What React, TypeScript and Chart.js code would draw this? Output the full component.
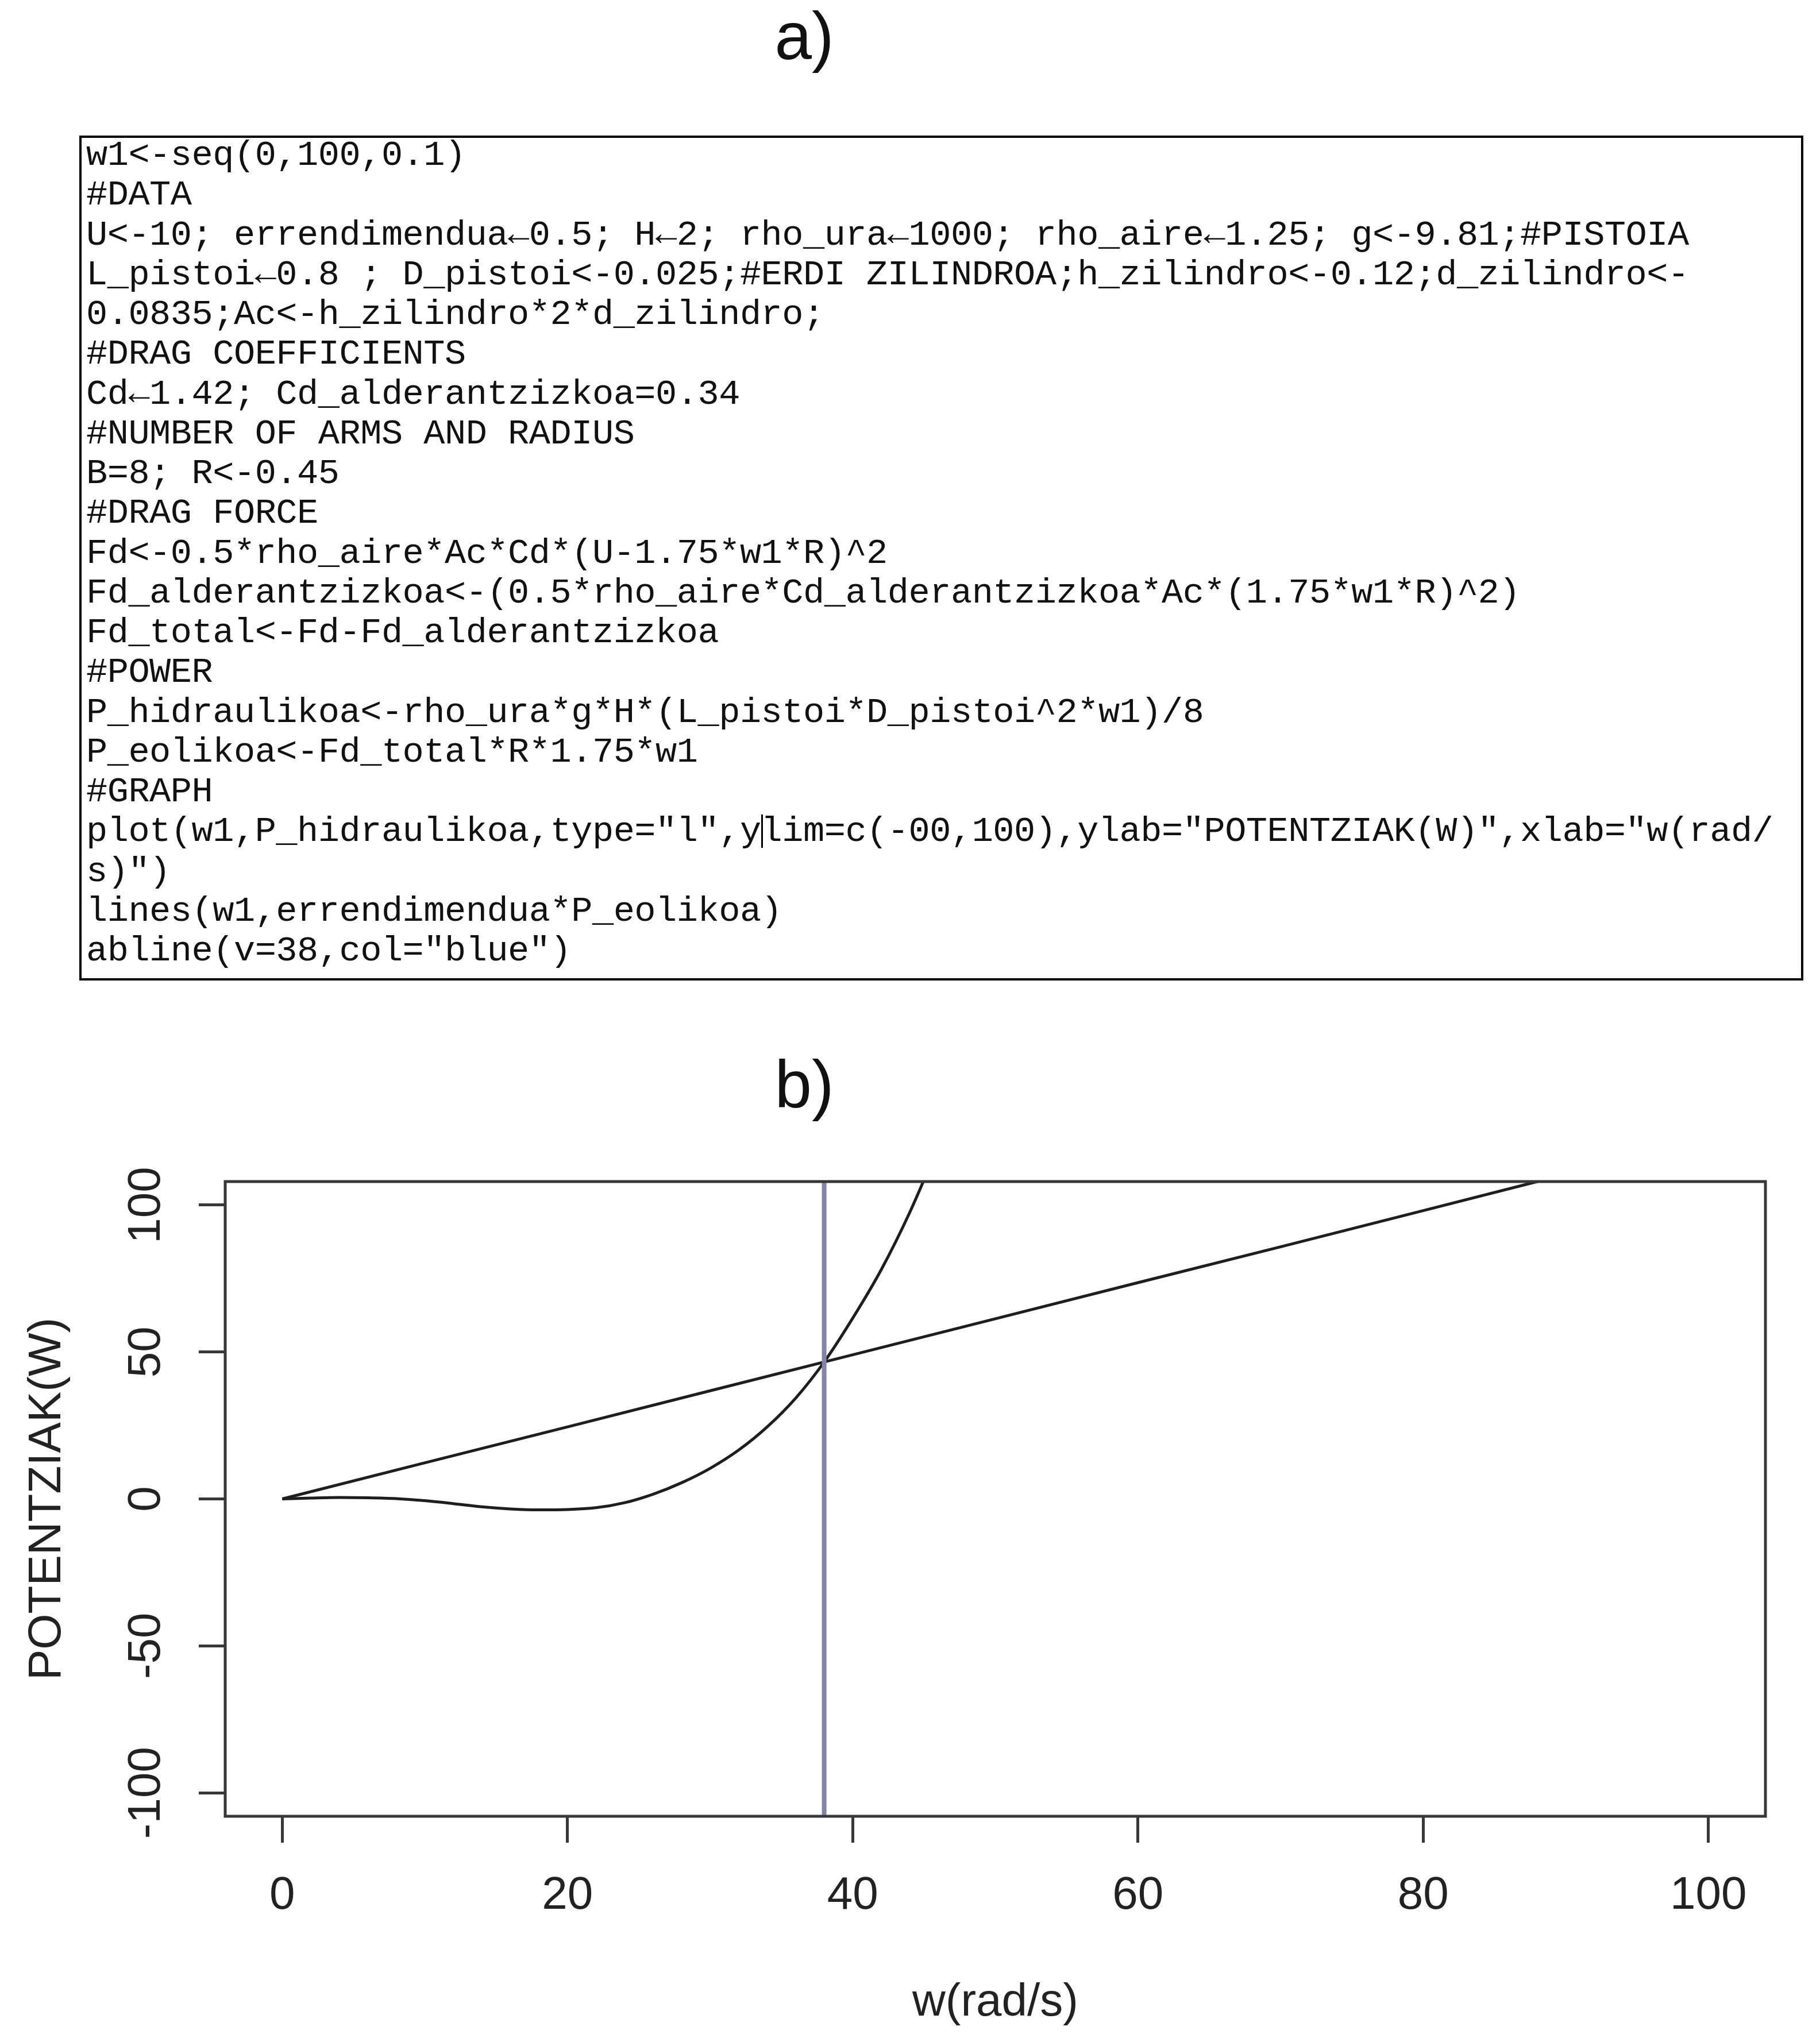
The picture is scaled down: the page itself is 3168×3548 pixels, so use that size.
import React, { useEffect, useRef } from "react";
import { Chart, registerables } from "chart.js";

Chart.register(...registerables);

// ---------- chart data (panel b) ----------
const xTicks = [0, 20, 40, 60, 80, 100];
const yTicks = [-100, -50, 0, 50, 100];
const xMin = -4;
const xMax = 104;
const yMin = -108;
const yMax = 108;

// P_hidraulikoa (straight line)
const hidroW = [0, 10, 20, 30, 38, 50, 60, 70, 80, 88, 100];
const hidroP = [0, 12.3, 24.5, 36.8, 46.6, 61.3, 73.6, 85.8, 98.1, 108, 122.6];

// errendimendua * P_eolikoa (curve)
const eolikoW = [0, 2, 4, 6, 8, 10, 12, 14, 16, 18, 20, 22, 24, 26, 28, 30, 32, 34, 36, 38, 40, 42, 44, 46];
const eolikoP = [0, 0.3, 0.5, 0.4, 0.1, -0.6, -1.6, -2.7, -3.4, -3.7, -3.6, -3.0, -1.3, 1.6, 5.5, 10.4, 16.6, 24.5, 34.3, 46.6, 61.5, 78, 97.5, 120];

const ablineV = 38;

const xTitle = "w(rad/s)";
const yTitle = "POTENTZIAK(W)";

// ---------- code listing (panel a) ----------
const codeLines = [
  "w1<-seq(0,100,0.1)",
  "#DATA",
  "U<-10; errendimendua\u21900.5; H\u21902; rho_ura\u21901000; rho_aire\u21901.25; g<-9.81;#PISTOIA",
  "L_pistoi\u21900.8 ; D_pistoi<-0.025;#ERDI ZILINDROA;h_zilindro<-0.12;d_zilindro<-",
  "0.0835;Ac<-h_zilindro*2*d_zilindro;",
  "#DRAG COEFFICIENTS",
  "Cd\u21901.42; Cd_alderantzizkoa=0.34",
  "#NUMBER OF ARMS AND RADIUS",
  "B=8; R<-0.45",
  "#DRAG FORCE",
  "Fd<-0.5*rho_aire*Ac*Cd*(U-1.75*w1*R)^2",
  "Fd_alderantzizkoa<-(0.5*rho_aire*Cd_alderantzizkoa*Ac*(1.75*w1*R)^2)",
  "Fd_total<-Fd-Fd_alderantzizkoa",
  "#POWER",
  "P_hidraulikoa<-rho_ura*g*H*(L_pistoi*D_pistoi^2*w1)/8",
  "P_eolikoa<-Fd_total*R*1.75*w1",
  "#GRAPH",
  "plot(w1,P_hidraulikoa,type=\"l\",y|lim=c(-00,100),ylab=\"POTENTZIAK(W)\",xlab=\"w(rad/",
  "s)\")",
  "lines(w1,errendimendua*P_eolikoa)",
  "abline(v=38,col=\"blue\")",
];

const SANS = "'Liberation Sans', Arial, Helvetica, sans-serif";
const MONO = "'Liberation Mono', 'DejaVu Sans Mono', monospace";

function PlotB() {
  const ref = useRef<HTMLCanvasElement | null>(null);

  useEffect(() => {
    const canvas = ref.current;
    if (!canvas) return;

    const font = { family: SANS, size: 80 };
    const ink = "#222222";
    const axisInk = "#383838";

    const boxPlugin = {
      id: "rbox",
      afterDatasetsDraw(chart: any) {
        const { ctx, chartArea, scales } = chart;
        const px = scales.x.getPixelForValue(ablineV);
        ctx.save();
        ctx.strokeStyle = "#8282ad";
        ctx.lineWidth = 8;
        ctx.beginPath();
        ctx.moveTo(px, chartArea.top);
        ctx.lineTo(px, chartArea.bottom);
        ctx.stroke();
        ctx.restore();
      },
      afterDraw(chart: any) {
        const { ctx, chartArea } = chart;
        ctx.save();
        ctx.strokeStyle = axisInk;
        ctx.lineWidth = 5;
        ctx.strokeRect(
          chartArea.left,
          chartArea.top,
          chartArea.right - chartArea.left,
          chartArea.bottom - chartArea.top
        );
        ctx.restore();
      },
    };

    const chart = new Chart(canvas, {
      type: "line",
      data: {
        datasets: [
          {
            data: hidroW.map((w, i) => ({ x: w, y: hidroP[i] })),
            borderColor: "#1e1e1e",
            borderWidth: 5,
            pointRadius: 0,
            tension: 0,
            fill: false,
          },
          {
            data: eolikoW.map((w, i) => ({ x: w, y: eolikoP[i] })),
            borderColor: "#1e1e1e",
            borderWidth: 5,
            pointRadius: 0,
            cubicInterpolationMode: "monotone",
            fill: false,
          },
        ],
      },
      options: {
        animation: false,
        responsive: false,
        maintainAspectRatio: false,
        devicePixelRatio: 1,
        layout: { padding: { top: 97, right: 95, left: 0, bottom: 0 } },
        plugins: {
          legend: { display: false },
          tooltip: { enabled: false },
          title: { display: false },
        },
        events: [],
        scales: {
          x: {
            type: "linear",
            min: xMin,
            max: xMax,
            afterBuildTicks: (s: any) => {
              s.ticks = xTicks.map((v) => ({ value: v }));
            },
            afterFit: (s: any) => {
              s.height = 386;
            },
            ticks: {
              font,
              color: ink,
              padding: 45,
              minRotation: 0,
              maxRotation: 0,
              autoSkip: false,
              callback: (v: any) => String(v),
            },
            grid: {
              display: true,
              drawOnChartArea: false,
              drawTicks: true,
              tickLength: 46,
              lineWidth: 5,
              color: axisInk,
            },
            border: { display: false },
            title: {
              display: true,
              text: xTitle,
              font,
              color: ink,
              padding: { top: 0, bottom: 13 },
            },
          },
          y: {
            type: "linear",
            min: yMin,
            max: yMax,
            afterBuildTicks: (s: any) => {
              s.ticks = yTicks.map((v) => ({ value: v }));
            },
            afterFit: (s: any) => {
              s.width = 392;
            },
            ticks: {
              font,
              color: ink,
              padding: 10,
              minRotation: 90,
              maxRotation: 90,
              crossAlign: "center",
              autoSkip: false,
              callback: (v: any) => String(v),
            },
            grid: {
              display: true,
              drawOnChartArea: false,
              drawTicks: true,
              tickLength: 46,
              lineWidth: 5,
              color: axisInk,
            },
            border: { display: false },
            title: {
              display: true,
              text: yTitle,
              font,
              color: ink,
              padding: { top: 35, bottom: 0 },
            },
          },
        },
      },
      plugins: [boxPlugin],
    } as any);

    return () => {
      chart.destroy();
    };
  }, []);

  return (
    <canvas
      ref={ref}
      width={3168}
      height={1588}
      style={{ position: "absolute", left: 0, top: 1960, width: 3168, height: 1588 }}
    />
  );
}

function CodeLine({ text }: { text: string }) {
  if (text.includes("|")) {
    const [a, b] = text.split("|");
    return (
      <div>
        {a}
        <span
          style={{
            display: "inline-block",
            width: 0,
            height: 58,
            borderLeft: "3px solid #000",
            marginRight: -3,
            verticalAlign: "-12px",
          }}
        />
        {b}
      </div>
    );
  }
  return <div>{text}</div>;
}

export default function App() {
  return (
    <div
      style={{
        position: "absolute",
        left: 0,
        top: 0,
        width: 3168,
        height: 3548,
        background: "#ffffff",
        overflow: "hidden",
      }}
    >
      <div
        style={{
          position: "absolute",
          left: 1400,
          top: 5,
          transform: "translateX(-50%)",
          fontFamily: SANS,
          fontSize: 116,
          lineHeight: "116px",
          color: "#111",
          whiteSpace: "pre",
        }}
      >
        a)
      </div>

      <div
        style={{
          position: "absolute",
          left: 138,
          top: 236,
          width: 3001,
          height: 1471,
          border: "4px solid #000",
          boxSizing: "border-box",
        }}
      />
      <div
        style={{
          position: "absolute",
          left: 150,
          top: 236,
          fontFamily: MONO,
          fontSize: 62,
          lineHeight: "69.25px",
          letterSpacing: "-0.5px",
          color: "#111",
          whiteSpace: "pre",
        }}
      >
        {codeLines.map((l, i) => (
          <CodeLine key={i} text={l} />
        ))}
      </div>

      <div
        style={{
          position: "absolute",
          left: 1400,
          top: 1830,
          transform: "translateX(-50%)",
          fontFamily: SANS,
          fontSize: 116,
          lineHeight: "116px",
          color: "#111",
          whiteSpace: "pre",
        }}
      >
        b)
      </div>

      <PlotB />
    </div>
  );
}
